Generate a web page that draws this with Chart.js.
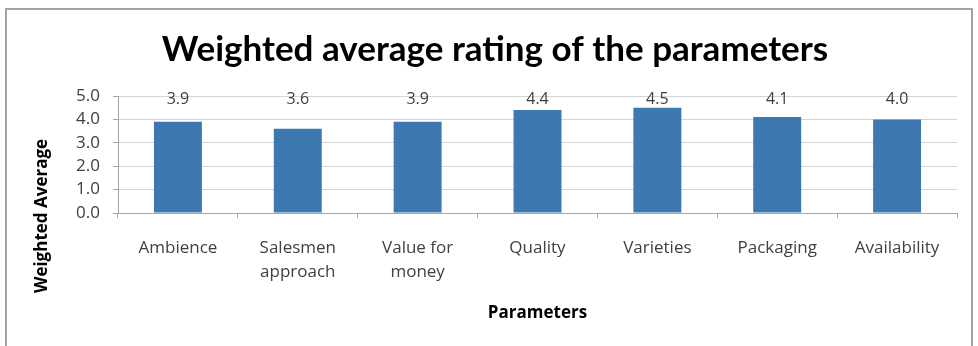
<!DOCTYPE html>
<html>
<head>
<meta charset="utf-8">
<script src="https://cdn.jsdelivr.net/npm/chart.js@4"></script>
<style>
  body { margin: 0; background: #ffffff; }
  #marco { position: absolute; left: 5px; top: 8px; width: 968px; height: 360px; border: 2px solid #a3a3a3; box-sizing: border-box; }
  #contenedor { position: absolute; left: 0; top: 0; width: 978px; height: 346px; }
</style>
</head>
<body>
<div id="marco"></div>
<div id="contenedor"><canvas id="grafico"></canvas></div>
<script>
let categorias = [['Ambience'], ['Salesmen', 'approach'], ['Value for', 'money'], ['Quality'], ['Varieties'], ['Packaging'], ['Availability']];
let valores = [3.9, 3.6, 3.9, 4.4, 4.5, 4.1, 4.0];
let ticksY = [0, 1, 2, 3, 4, 5];

let tituloGrafico = 'Weighted average rating of the parameters';
let tituloX = 'Parameters';
let tituloY = 'Weighted Average';

const fuente = '"Open Sans"';
const grisTexto = '#404040';

// titulos y etiquetas de valor dibujados a mano
const textosExtra = {
  id: 'textosExtra',
  afterDraw: (chart) => {
    const ctx = chart.ctx;
    const area = chart.chartArea;
    ctx.save();
    ctx.textAlign = 'center';
    ctx.textBaseline = 'middle';

    ctx.fillStyle = '#000000';
    ctx.font = 'bold 35px Lato';
    ctx.fillText(tituloGrafico, 495, 50);

    ctx.font = 'bold 17px ' + fuente;
    ctx.fillStyle = '#000000';
    ctx.fillText(tituloX, (area.left + area.right) / 2, 313);

    ctx.save();
    ctx.translate(42, 216);
    ctx.rotate(-Math.PI / 2);
    ctx.fillText(tituloY, 0, 0);
    ctx.restore();

    // etiquetas encima de las barras
    ctx.font = '16px ' + fuente;
    ctx.fillStyle = grisTexto;
    const barras = chart.getDatasetMeta(0).data;
    for (let i = 0; i < barras.length; i++) {
      ctx.fillText(valores[i].toFixed(1), barras[i].x, area.top + 3);
    }
    ctx.restore();
  }
};

var grafico = new Chart(document.getElementById('grafico'), {
  type: 'bar',
  data: {
    labels: categorias,
    datasets: [{
      data: valores,
      backgroundColor: '#3e78b1',
      categoryPercentage: 1.0,
      barPercentage: 0.4
    }]
  },
  options: {
    responsive: true,
    maintainAspectRatio: false,
    animation: false,
    layout: { padding: { left: 60, right: 21, top: 96, bottom: 0 } },
    plugins: {
      legend: { display: false },
      tooltip: { enabled: false }
    },
    scales: {
      x: {
        afterFit: (scale) => { scale.height = 133; },
        grid: { drawOnChartArea: false, drawTicks: true, tickLength: 5, color: '#a6a6a6' },
        border: { color: '#a6a6a6' },
        ticks: { padding: 18, color: grisTexto, font: { family: fuente, size: 17, lineHeight: 1.4 }, maxRotation: 0 }
      },
      y: {
        min: 0,
        max: 5,
        afterFit: (scale) => { scale.width = 58; },
        afterBuildTicks: (scale) => { scale.ticks = ticksY.map(v => ({ value: v })); },
        grid: { color: '#d4d4d4', tickLength: 5, tickColor: '#a6a6a6' },
        border: { color: '#a6a6a6' },
        ticks: {
          padding: 13,
          color: grisTexto,
          font: { family: fuente, size: 17 },
          callback: (v) => v.toFixed(1)
        }
      }
    }
  },
  plugins: [textosExtra]
});
</script>
</body>
</html>
